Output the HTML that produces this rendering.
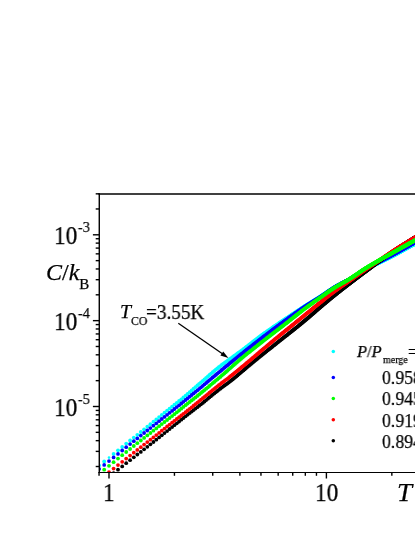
<!DOCTYPE html><html><head><meta charset="utf-8"><style>
html,body{margin:0;padding:0;background:#fff;}body{width:415px;height:537px;position:relative;overflow:hidden;font-family:"Liberation Serif",serif;color:#000;}
.t{position:absolute;white-space:nowrap;margin:0;padding:0;will-change:transform;transform-origin:0 0;-webkit-text-stroke:0.25px #000;}
.t i{font-style:italic;} .s{position:relative;}
</style></head><body>
<svg width="415" height="537" viewBox="0 0 415 537" style="position:absolute;left:0;top:0">
<defs><clipPath id="cp"><rect x="99.0" y="193.85" width="321.0" height="278.65"/></clipPath>
<marker id="mcyan" markerWidth="6" markerHeight="6" refX="3" refY="3" markerUnits="userSpaceOnUse"><circle cx="3" cy="3" r="1.9" fill="#00ffff"/></marker>
<marker id="mblue" markerWidth="6" markerHeight="6" refX="3" refY="3" markerUnits="userSpaceOnUse"><circle cx="3" cy="3" r="1.9" fill="#0000ff"/></marker>
<marker id="mblack" markerWidth="6" markerHeight="6" refX="3" refY="3" markerUnits="userSpaceOnUse"><circle cx="3" cy="3" r="1.9" fill="#000000"/></marker>
<marker id="mred" markerWidth="6" markerHeight="6" refX="3" refY="3" markerUnits="userSpaceOnUse"><circle cx="3" cy="3" r="1.9" fill="#ff0000"/></marker>
<marker id="mgreen" markerWidth="6" markerHeight="6" refX="3" refY="3" markerUnits="userSpaceOnUse"><circle cx="3" cy="3" r="1.9" fill="#00ff00"/></marker>
</defs>
<g clip-path="url(#cp)">
<polyline points="99.1,465.4 104.2,461.4 113.6,453.9 118.0,450.3 122.2,446.9 126.2,443.6 130.1,440.5 133.8,437.6 137.3,434.8 140.8,432.0 144.1,429.3 147.3,426.7 150.4,424.2 153.4,421.7 156.3,419.4 159.1,417.1 161.8,414.9 164.5,412.7 167.1,410.6 169.6,408.6 172.1,406.6 174.4,404.7 176.8,402.9 179.1,401.0 181.3,399.3 183.4,397.5 185.6,395.7 187.6,394.0 189.7,392.2 191.7,390.5 193.6,388.7 195.5,387.1 197.4,385.4 199.2,383.8 201.0,382.3 202.8,380.8 204.5,379.3 206.2,377.8 207.9,376.3 209.5,374.9 211.1,373.6 212.7,372.2 214.3,370.9 215.8,369.6 217.3,368.4 218.8,367.2 220.3,366.1 221.7,365.0 223.1,363.9 224.5,362.9 225.9,361.9 227.3,361.0 228.6,360.0 229.9,359.0 231.2,358.1 232.5,357.2 233.8,356.2 235.0,355.3 236.3,354.4 237.5,353.5 238.7,352.7 239.9,351.8 241.1,350.9 242.2,350.1 243.4,349.2 244.5,348.4 245.6,347.5 246.7,346.7 247.8,345.9 248.9,345.0 250.0,344.2 251.0,343.3 252.1,342.5 253.1,341.7 254.1,340.9 255.1,340.1 256.1,339.3 257.1,338.6 258.1,337.8 259.0,337.1 260.0,336.4 261.0,335.7 261.9,335.0 262.8,334.3 263.7,333.7 264.7,333.0 265.6,332.4 266.5,331.8 267.3,331.2 268.2,330.6 269.1,329.9 270.0,329.4 270.8,328.8 271.7,328.2 272.5,327.6 273.3,327.0 274.2,326.5 275.0,325.9 275.8,325.4 276.6,324.8 277.4,324.3 278.2,323.8 279.0,323.2 279.7,322.7 280.5,322.2 281.3,321.7 282.0,321.2 282.8,320.7 283.5,320.2 284.3,319.7 285.0,319.2 285.7,318.7 286.5,318.2 287.2,317.8 287.9,317.3 288.6,316.8 289.3,316.4 290.0,315.9 290.7,315.4 291.4,315.0 292.0,314.5 292.7,314.1 293.4,313.6 294.1,313.2 294.7,312.8 295.4,312.3 296.0,311.9 296.7,311.4 297.3,311.0 298.0,310.6 298.6,310.2 299.2,309.8 299.9,309.3 300.5,308.9 301.1,308.5 301.7,308.1 302.3,307.7 302.9,307.3 303.5,306.9 304.1,306.5 304.7,306.2 305.3,305.8 305.9,305.4 306.5,305.0 307.1,304.7 307.7,304.3 308.2,304.0 308.8,303.6 309.4,303.3 309.9,302.9 310.5,302.6 311.1,302.2 311.6,301.9 312.2,301.6 312.7,301.2 313.3,300.9 313.8,300.6 314.3,300.2 314.9,299.9 315.4,299.6 315.9,299.2 316.5,298.9 317.0,298.6 317.5,298.3 318.0,298.0 318.5,297.6 319.0,297.3 319.5,297.0 320.1,296.7 320.6,296.3 321.1,296.0 321.6,295.7 322.1,295.4 322.5,295.0 323.0,294.7 323.5,294.4 324.0,294.1 324.5,293.7 325.0,293.4 325.5,293.1 325.9,292.8 326.4,292.5 326.9,292.1 327.3,291.8 327.8,291.5 328.3,291.2 328.7,290.9 329.2,290.6 329.6,290.3 330.1,290.0 330.6,289.7 331.0,289.4 331.5,289.1 331.9,288.8 332.3,288.5 332.8,288.2 333.2,288.0 333.7,287.7 334.1,287.4 334.5,287.2 335.0,286.9 335.4,286.7 335.8,286.4 336.3,286.2 336.7,285.9 337.1,285.7 337.5,285.5 337.9,285.2 338.4,285.0 338.8,284.8 339.2,284.6 339.6,284.4 340.0,284.1 340.4,283.9 340.8,283.7 341.2,283.5 341.6,283.3 342.0,283.1 342.4,282.9 342.8,282.7 343.2,282.5 343.6,282.3 344.0,282.1 344.4,281.9 344.8,281.7 345.2,281.5 345.6,281.3 345.9,281.1 346.3,280.9 346.7,280.7 347.1,280.5 347.5,280.3 347.8,280.1 348.2,279.9 348.6,279.7 349.0,279.5 349.3,279.3 349.7,279.1 350.1,278.9 350.4,278.7 350.8,278.4 351.2,278.2 351.5,278.0 351.9,277.8 352.3,277.6 352.6,277.4 353.0,277.2 353.3,277.0 353.7,276.8 354.0,276.5 354.4,276.3 354.7,276.1 355.1,275.9 355.4,275.7 355.8,275.5 356.1,275.3 356.5,275.1 356.8,274.9 357.2,274.6 357.5,274.4 357.8,274.2 358.2,274.0 358.5,273.8 358.8,273.6 359.2,273.4 359.5,273.2 359.8,273.0 360.2,272.8 360.5,272.6 360.8,272.4 361.2,272.2 361.5,272.0 361.8,271.8 362.1,271.6 362.5,271.5 362.8,271.3 363.1,271.1 363.4,270.9 363.7,270.7 364.1,270.5 364.4,270.4 364.7,270.2 365.0,270.0 365.3,269.8 365.6,269.7 365.9,269.5 366.2,269.3 366.6,269.1 366.9,269.0 367.2,268.8 367.5,268.7 367.8,268.5 368.1,268.3 368.4,268.2 368.7,268.0 369.0,267.8 369.3,267.7 369.6,267.5 369.9,267.4 370.2,267.2 370.5,267.1 370.8,266.9 371.1,266.8 371.4,266.6 371.7,266.5 371.9,266.3 372.2,266.2 372.5,266.0 372.8,265.9 373.1,265.7 373.4,265.6 373.7,265.4 374.0,265.3 374.3,265.1 374.5,265.0 374.8,264.8 375.1,264.7 375.4,264.6 375.7,264.4 375.9,264.3 376.2,264.1 376.5,264.0 376.8,263.9 377.1,263.7 377.3,263.6 377.6,263.5 377.9,263.3 378.2,263.2 378.4,263.0 378.7,262.9 379.0,262.8 379.2,262.6 379.5,262.5 379.8,262.4 380.0,262.2 380.3,262.1 380.6,262.0 380.8,261.8 381.1,261.7 381.4,261.6 381.6,261.5 381.9,261.3 382.2,261.2 382.4,261.1 382.7,260.9 382.9,260.8 383.2,260.7 383.5,260.6 383.7,260.4 384.0,260.3 384.2,260.2 384.5,260.1 384.7,259.9 385.0,259.8 385.2,259.7 385.5,259.5 385.8,259.4 386.0,259.3 386.3,259.2 386.5,259.0 386.8,258.9 387.0,258.8 387.2,258.7 387.5,258.6 387.7,258.4 388.0,258.3 388.2,258.2 388.5,258.1 388.7,257.9 389.0,257.8 389.2,257.7 389.5,257.6 389.7,257.4 389.9,257.3 390.2,257.2 390.4,257.1 390.7,257.0 390.9,256.8 391.1,256.7 391.4,256.6 391.6,256.5 391.8,256.3 392.1,256.2 392.3,256.1 392.5,256.0 392.8,255.9 393.0,255.7 393.2,255.6 393.5,255.5 393.7,255.4 393.9,255.3 394.2,255.1 394.4,255.0 394.6,254.9 394.9,254.8 395.1,254.7 395.3,254.5 395.5,254.4 395.8,254.3 396.0,254.2 396.2,254.0 396.5,253.9 396.7,253.8 396.9,253.7 397.1,253.6 397.3,253.4 397.6,253.3 397.8,253.2 398.0,253.1 398.2,253.0 398.5,252.8 398.7,252.7 398.9,252.6 399.1,252.5 399.3,252.4 399.5,252.2 399.8,252.1 400.0,252.0 400.2,251.9 400.4,251.8 400.6,251.6 400.8,251.5 401.1,251.4 401.3,251.3 401.5,251.2 401.7,251.0 401.9,250.9 402.1,250.8 402.3,250.7 402.5,250.6 402.8,250.4 403.0,250.3 403.2,250.2 403.4,250.1 403.6,250.0 403.8,249.9 404.0,249.7 404.2,249.6 404.4,249.5 404.6,249.4 404.8,249.3 405.0,249.2 405.2,249.1 405.4,248.9 405.7,248.8 405.9,248.7 406.1,248.6 406.3,248.5 406.5,248.4 406.7,248.3 406.9,248.1 407.1,248.0 407.3,247.9 407.5,247.8 407.7,247.7 407.9,247.6 408.1,247.5 408.3,247.4 408.5,247.3 408.7,247.1 408.9,247.0 409.1,246.9 409.3,246.8 409.5,246.7 409.6,246.6 409.8,246.5 410.0,246.4 410.2,246.3 410.4,246.2 410.6,246.1 410.8,246.0 411.0,245.9 411.2,245.7 411.4,245.6 411.6,245.5 411.8,245.4 412.0,245.3 412.2,245.2 412.3,245.1 412.5,245.0 412.7,244.9 412.9,244.8 413.1,244.7 413.3,244.6 413.5,244.5 413.7,244.4 413.9,244.3 414.0,244.2 414.2,244.1 414.4,244.0 414.6,243.9 414.8,243.8 415.0,243.7 415.2,243.6 415.3,243.5 415.5,243.4 415.7,243.3 415.9,243.2 416.1,243.1 416.3,243.0 416.4,242.9 416.6,242.9 416.8,242.8 417.0,242.7 417.2,242.6 417.3,242.5 417.5,242.4 417.7,242.3 417.9,242.2 418.1,242.1 418.2,242.0 418.4,241.9 418.6,241.8 418.8,241.7 418.9,241.7" fill="none" stroke="none" marker-start="url(#mcyan)" marker-mid="url(#mcyan)" marker-end="url(#mcyan)"/>
<circle cx="109.0" cy="457.6" r="1.3" fill="#00ffff"/>
<polyline points="99.1,468.9 104.2,464.9 109.0,461.1 113.6,457.4 118.0,453.9 122.2,450.5 126.2,447.2 130.1,444.1 133.8,441.2 137.3,438.4 140.8,435.6 144.1,433.0 147.3,430.5 150.4,428.1 153.4,425.7 156.3,423.4 159.1,421.2 161.8,419.0 164.5,416.9 167.1,414.8 169.6,412.8 172.1,410.9 174.4,409.0 176.8,407.1 179.1,405.3 181.3,403.5 183.4,401.8 185.6,400.0 187.6,398.3 189.7,396.7 191.7,395.0 193.6,393.4 195.5,391.8 197.4,390.3 199.2,388.8 201.0,387.3 202.8,385.8 204.5,384.3 206.2,382.9 207.9,381.5 209.5,380.1 211.1,378.8 212.7,377.4 214.3,376.1 215.8,374.9 217.3,373.6 218.8,372.4 220.3,371.2 221.7,370.0 223.1,368.8 224.5,367.7 225.9,366.5 227.3,365.4 228.6,364.3 229.9,363.2 231.2,362.2 232.5,361.1 233.8,360.1 235.0,359.1 236.3,358.1 237.5,357.1 238.7,356.1 239.9,355.2 241.1,354.2 242.2,353.3 243.4,352.4 244.5,351.5 245.6,350.6 246.7,349.7 247.8,348.9 248.9,348.0 250.0,347.2 251.0,346.4 252.1,345.6 253.1,344.7 254.1,344.0 255.1,343.2 256.1,342.4 257.1,341.6 258.1,340.9 259.0,340.1 260.0,339.4 261.0,338.7 261.9,337.9 262.8,337.2 263.7,336.5 264.7,335.8 265.6,335.1 266.5,334.4 267.3,333.8 268.2,333.1 269.1,332.4 270.0,331.8 270.8,331.1 271.7,330.5 272.5,329.9 273.3,329.2 274.2,328.6 275.0,328.0 275.8,327.4 276.6,326.8 277.4,326.2 278.2,325.7 279.0,325.1 279.7,324.5 280.5,323.9 281.3,323.4 282.0,322.8 282.8,322.3 283.5,321.7 284.3,321.2 285.0,320.7 285.7,320.1 286.5,319.6 287.2,319.1 287.9,318.6 288.6,318.0 289.3,317.5 290.0,317.0 290.7,316.5 291.4,316.1 292.0,315.6 292.7,315.1 293.4,314.6 294.1,314.1 294.7,313.7 295.4,313.2 296.0,312.7 296.7,312.3 297.3,311.8 298.0,311.4 298.6,310.9 299.2,310.5 299.9,310.1 300.5,309.7 301.1,309.2 301.7,308.8 302.3,308.4 302.9,308.0 303.5,307.6 304.1,307.2 304.7,306.8 305.3,306.4 305.9,306.0 306.5,305.6 307.1,305.2 307.7,304.9 308.2,304.5 308.8,304.1 309.4,303.8 309.9,303.4 310.5,303.1 311.1,302.7 311.6,302.4 312.2,302.0 312.7,301.7 313.3,301.4 313.8,301.0 314.3,300.7 314.9,300.4 315.4,300.0 315.9,299.7 316.5,299.4 317.0,299.0 317.5,298.7 318.0,298.4 318.5,298.1 319.0,297.7 319.5,297.4 320.1,297.1 320.6,296.7 321.1,296.4 321.6,296.1 322.1,295.7 322.5,295.4 323.0,295.1 323.5,294.7 324.0,294.4 324.5,294.1 325.0,293.7 325.5,293.4 325.9,293.1 326.4,292.7 326.9,292.4 327.3,292.1 327.8,291.7 328.3,291.4 328.7,291.1 329.2,290.8 329.6,290.5 330.1,290.2 330.6,289.9 331.0,289.6 331.5,289.3 331.9,289.0 332.3,288.7 332.8,288.4 333.2,288.1 333.7,287.8 334.1,287.5 334.5,287.3 335.0,287.0 335.4,286.8 335.8,286.5 336.3,286.3 336.7,286.0 337.1,285.8 337.5,285.5 337.9,285.3 338.4,285.1 338.8,284.8 339.2,284.6 339.6,284.4 340.0,284.2 340.4,284.0 340.8,283.7 341.2,283.5 341.6,283.3 342.0,283.1 342.4,282.9 342.8,282.7 343.2,282.5 343.6,282.3 344.0,282.1 344.4,281.9 344.8,281.7 345.2,281.4 345.6,281.2 345.9,281.0 346.3,280.8 346.7,280.6 347.1,280.4 347.5,280.2 347.8,280.0 348.2,279.8 348.6,279.6 349.0,279.4 349.3,279.2 349.7,279.0 350.1,278.8 350.4,278.5 350.8,278.3 351.2,278.1 351.5,277.9 351.9,277.7 352.3,277.5 352.6,277.2 353.0,277.0 353.3,276.8 353.7,276.6 354.0,276.4 354.4,276.2 354.7,275.9 355.1,275.7 355.4,275.5 355.8,275.3 356.1,275.1 356.5,274.8 356.8,274.6 357.2,274.4 357.5,274.2 357.8,274.0 358.2,273.8 358.5,273.6 358.8,273.4 359.2,273.1 359.5,272.9 359.8,272.7 360.2,272.5 360.5,272.3 360.8,272.1 361.2,271.9 361.5,271.7 361.8,271.5 362.1,271.3 362.5,271.1 362.8,270.9 363.1,270.7 363.4,270.5 363.7,270.3 364.1,270.2 364.4,270.0 364.7,269.8 365.0,269.6 365.3,269.4 365.6,269.2 365.9,269.1 366.2,268.9 366.6,268.7 366.9,268.5 367.2,268.4 367.5,268.2 367.8,268.0 368.1,267.8 368.4,267.7 368.7,267.5 369.0,267.3 369.3,267.2 369.6,267.0 369.9,266.8 370.2,266.7 370.5,266.5 370.8,266.4 371.1,266.2 371.4,266.0 371.7,265.9 371.9,265.7 372.2,265.6 372.5,265.4 372.8,265.3 373.1,265.1 373.4,264.9 373.7,264.8 374.0,264.6 374.3,264.5 374.5,264.3 374.8,264.2 375.1,264.0 375.4,263.9 375.7,263.7 375.9,263.6 376.2,263.4 376.5,263.3 376.8,263.1 377.1,263.0 377.3,262.8 377.6,262.7 377.9,262.6 378.2,262.4 378.4,262.3 378.7,262.1 379.0,262.0 379.2,261.8 379.5,261.7 379.8,261.6 380.0,261.4 380.3,261.3 380.6,261.1 380.8,261.0 381.1,260.9 381.4,260.7 381.6,260.6 381.9,260.5 382.2,260.3 382.4,260.2 382.7,260.0 382.9,259.9 383.2,259.8 383.5,259.6 383.7,259.5 384.0,259.4 384.2,259.2 384.5,259.1 384.7,259.0 385.0,258.8 385.2,258.7 385.5,258.6 385.8,258.4 386.0,258.3 386.3,258.2 386.5,258.0 386.8,257.9 387.0,257.8 387.2,257.7 387.5,257.5 387.7,257.4 388.0,257.3 388.2,257.1 388.5,257.0 388.7,256.9 389.0,256.7 389.2,256.6 389.5,256.5 389.7,256.4 389.9,256.2 390.2,256.1 390.4,256.0 390.7,255.8 390.9,255.7 391.1,255.6 391.4,255.5 391.6,255.3 391.8,255.2 392.1,255.1 392.3,255.0 392.5,254.8 392.8,254.7 393.0,254.6 393.2,254.5 393.5,254.3 393.7,254.2 393.9,254.1 394.2,254.0 394.4,253.8 394.6,253.7 394.9,253.6 395.1,253.4 395.3,253.3 395.5,253.2 395.8,253.1 396.0,252.9 396.2,252.8 396.5,252.7 396.7,252.6 396.9,252.5 397.1,252.3 397.3,252.2 397.6,252.1 397.8,252.0 398.0,251.8 398.2,251.7 398.5,251.6 398.7,251.5 398.9,251.3 399.1,251.2 399.3,251.1 399.5,251.0 399.8,250.8 400.0,250.7 400.2,250.6 400.4,250.5 400.6,250.4 400.8,250.2 401.1,250.1 401.3,250.0 401.5,249.9 401.7,249.8 401.9,249.6 402.1,249.5 402.3,249.4 402.5,249.3 402.8,249.2 403.0,249.0 403.2,248.9 403.4,248.8 403.6,248.7 403.8,248.6 404.0,248.4 404.2,248.3 404.4,248.2 404.6,248.1 404.8,248.0 405.0,247.9 405.2,247.7 405.4,247.6 405.7,247.5 405.9,247.4 406.1,247.3 406.3,247.2 406.5,247.1 406.7,246.9 406.9,246.8 407.1,246.7 407.3,246.6 407.5,246.5 407.7,246.4 407.9,246.3 408.1,246.1 408.3,246.0 408.5,245.9 408.7,245.8 408.9,245.7 409.1,245.6 409.3,245.5 409.5,245.4 409.6,245.3 409.8,245.2 410.0,245.0 410.2,244.9 410.4,244.8 410.6,244.7 410.8,244.6 411.0,244.5 411.2,244.4 411.4,244.3 411.6,244.2 411.8,244.1 412.0,244.0 412.2,243.9 412.3,243.8 412.5,243.7 412.7,243.5 412.9,243.4 413.1,243.3 413.3,243.2 413.5,243.1 413.7,243.0 413.9,242.9 414.0,242.8 414.2,242.7 414.4,242.6 414.6,242.5 414.8,242.4 415.0,242.3 415.2,242.2 415.3,242.1 415.5,242.0 415.7,241.9 415.9,241.8 416.1,241.7 416.3,241.6 416.4,241.5 416.6,241.4 416.8,241.3 417.0,241.2 417.2,241.1 417.3,241.0 417.5,240.9 417.7,240.8 417.9,240.8 418.1,240.7 418.2,240.6 418.4,240.5 418.6,240.4 418.8,240.3 418.9,240.2" fill="none" stroke="none" marker-start="url(#mblue)" marker-mid="url(#mblue)" marker-end="url(#mblue)"/>
<polyline points="99.1,484.5 104.2,480.5 109.0,476.7 113.6,473.1 118.0,469.7 122.2,466.4 126.2,463.2 130.1,460.2 133.8,457.3 137.3,454.5 140.8,451.9 144.1,449.3 147.3,446.8 150.4,444.3 153.4,442.0 156.3,439.7 159.1,437.4 161.8,435.3 164.5,433.1 167.1,431.1 169.6,429.0 172.1,427.1 174.4,425.2 176.8,423.3 179.1,421.5 181.3,419.7 183.4,418.0 185.6,416.3 187.6,414.7 189.7,413.1 191.7,411.6 193.6,410.1 195.5,408.6 197.4,407.2 199.2,405.7 201.0,404.3 202.8,402.9 204.5,401.5 206.2,400.1 207.9,398.7 209.5,397.3 211.1,396.0 212.7,394.7 214.3,393.4 215.8,392.2 217.3,391.0 218.8,389.8 220.3,388.7 221.7,387.6 223.1,386.6 224.5,385.5 225.9,384.5 227.3,383.6 228.6,382.6 229.9,381.5 231.2,380.5 232.5,379.5 233.8,378.5 235.0,377.4 236.3,376.4 237.5,375.4 238.7,374.3 239.9,373.3 241.1,372.3 242.2,371.3 243.4,370.4 244.5,369.4 245.6,368.5 246.7,367.6 247.8,366.6 248.9,365.7 250.0,364.8 251.0,363.9 252.1,363.1 253.1,362.2 254.1,361.3 255.1,360.5 256.1,359.7 257.1,358.9 258.1,358.1 259.0,357.3 260.0,356.5 261.0,355.7 261.9,355.0 262.8,354.2 263.7,353.5 264.7,352.8 265.6,352.0 266.5,351.3 267.3,350.6 268.2,349.9 269.1,349.2 270.0,348.5 270.8,347.9 271.7,347.2 272.5,346.5 273.3,345.8 274.2,345.2 275.0,344.5 275.8,343.9 276.6,343.2 277.4,342.6 278.2,342.0 279.0,341.3 279.7,340.7 280.5,340.1 281.3,339.5 282.0,338.9 282.8,338.3 283.5,337.7 284.3,337.1 285.0,336.6 285.7,336.0 286.5,335.4 287.2,334.9 287.9,334.3 288.6,333.7 289.3,333.2 290.0,332.6 290.7,332.1 291.4,331.5 292.0,331.0 292.7,330.5 293.4,329.9 294.1,329.4 294.7,328.9 295.4,328.3 296.0,327.8 296.7,327.3 297.3,326.8 298.0,326.3 298.6,325.8 299.2,325.2 299.9,324.7 300.5,324.2 301.1,323.7 301.7,323.2 302.3,322.7 302.9,322.2 303.5,321.7 304.1,321.2 304.7,320.7 305.3,320.2 305.9,319.7 306.5,319.2 307.1,318.7 307.7,318.2 308.2,317.7 308.8,317.3 309.4,316.8 309.9,316.3 310.5,315.8 311.1,315.3 311.6,314.8 312.2,314.3 312.7,313.8 313.3,313.4 313.8,312.9 314.3,312.4 314.9,311.9 315.4,311.5 315.9,311.0 316.5,310.6 317.0,310.1 317.5,309.7 318.0,309.2 318.5,308.8 319.0,308.3 319.5,307.9 320.1,307.5 320.6,307.0 321.1,306.6 321.6,306.2 322.1,305.8 322.5,305.3 323.0,304.9 323.5,304.5 324.0,304.1 324.5,303.7 325.0,303.3 325.5,302.9 325.9,302.5 326.4,302.1 326.9,301.7 327.3,301.3 327.8,300.9 328.3,300.5 328.7,300.1 329.2,299.8 329.6,299.4 330.1,299.0 330.6,298.6 331.0,298.3 331.5,297.9 331.9,297.5 332.3,297.2 332.8,296.8 333.2,296.4 333.7,296.1 334.1,295.7 334.5,295.4 335.0,295.0 335.4,294.7 335.8,294.3 336.3,294.0 336.7,293.7 337.1,293.3 337.5,293.0 337.9,292.6 338.4,292.3 338.8,292.0 339.2,291.7 339.6,291.3 340.0,291.0 340.4,290.7 340.8,290.4 341.2,290.1 341.6,289.7 342.0,289.4 342.4,289.1 342.8,288.8 343.2,288.5 343.6,288.2 344.0,287.9 344.4,287.6 344.8,287.3 345.2,287.0 345.6,286.7 345.9,286.4 346.3,286.1 346.7,285.8 347.1,285.5 347.5,285.2 347.8,284.9 348.2,284.6 348.6,284.3 349.0,284.0 349.3,283.7 349.7,283.5 350.1,283.2 350.4,282.9 350.8,282.6 351.2,282.3 351.5,282.1 351.9,281.8 352.3,281.5 352.6,281.2 353.0,281.0 353.3,280.7 353.7,280.4 354.0,280.2 354.4,279.9 354.7,279.6 355.1,279.4 355.4,279.1 355.8,278.8 356.1,278.6 356.5,278.3 356.8,278.1 357.2,277.8 357.5,277.5 357.8,277.3 358.2,277.0 358.5,276.8 358.8,276.5 359.2,276.3 359.5,276.0 359.8,275.8 360.2,275.5 360.5,275.3 360.8,275.0 361.2,274.8 361.5,274.5 361.8,274.3 362.1,274.0 362.5,273.8 362.8,273.6 363.1,273.3 363.4,273.1 363.7,272.8 364.1,272.6 364.4,272.4 364.7,272.1 365.0,271.9 365.3,271.7 365.6,271.4 365.9,271.2 366.2,271.0 366.6,270.7 366.9,270.5 367.2,270.3 367.5,270.0 367.8,269.8 368.1,269.6 368.4,269.4 368.7,269.1 369.0,268.9 369.3,268.7 369.6,268.5 369.9,268.2 370.2,268.0 370.5,267.8 370.8,267.6 371.1,267.4 371.4,267.1 371.7,266.9 371.9,266.7 372.2,266.5 372.5,266.3 372.8,266.1 373.1,265.8 373.4,265.6 373.7,265.4 374.0,265.2 374.3,265.0 374.5,264.8 374.8,264.6 375.1,264.4 375.4,264.1 375.7,263.9 375.9,263.7 376.2,263.5 376.5,263.3 376.8,263.1 377.1,262.9 377.3,262.7 377.6,262.5 377.9,262.3 378.2,262.1 378.4,261.9 378.7,261.7 379.0,261.5 379.2,261.3 379.5,261.1 379.8,260.9 380.0,260.7 380.3,260.5 380.6,260.3 380.8,260.1 381.1,259.9 381.4,259.7 381.6,259.5 381.9,259.4 382.2,259.2 382.4,259.0 382.7,258.8 382.9,258.6 383.2,258.4 383.5,258.2 383.7,258.0 384.0,257.8 384.2,257.7 384.5,257.5 384.7,257.3 385.0,257.1 385.2,256.9 385.5,256.7 385.8,256.6 386.0,256.4 386.3,256.2 386.5,256.0 386.8,255.8 387.0,255.7 387.2,255.5 387.5,255.3 387.7,255.1 388.0,255.0 388.2,254.8 388.5,254.6 388.7,254.4 389.0,254.3 389.2,254.1 389.5,253.9 389.7,253.8 389.9,253.6 390.2,253.4 390.4,253.3 390.7,253.1 390.9,252.9 391.1,252.8 391.4,252.6 391.6,252.4 391.8,252.3 392.1,252.1 392.3,251.9 392.5,251.8 392.8,251.6 393.0,251.5 393.2,251.3 393.5,251.1 393.7,251.0 393.9,250.8 394.2,250.7 394.4,250.5 394.6,250.3 394.9,250.2 395.1,250.0 395.3,249.9 395.5,249.7 395.8,249.6 396.0,249.4 396.2,249.3 396.5,249.1 396.7,249.0 396.9,248.8 397.1,248.7 397.3,248.5 397.6,248.4 397.8,248.2 398.0,248.1 398.2,247.9 398.5,247.8 398.7,247.7 398.9,247.5 399.1,247.4 399.3,247.2 399.5,247.1 399.8,246.9 400.0,246.8 400.2,246.7 400.4,246.5 400.6,246.4 400.8,246.2 401.1,246.1 401.3,246.0 401.5,245.8 401.7,245.7 401.9,245.5 402.1,245.4 402.3,245.3 402.5,245.1 402.8,245.0 403.0,244.9 403.2,244.7 403.4,244.6 403.6,244.5 403.8,244.3 404.0,244.2 404.2,244.1 404.4,243.9 404.6,243.8 404.8,243.7 405.0,243.6 405.2,243.4 405.4,243.3 405.7,243.2 405.9,243.0 406.1,242.9 406.3,242.8 406.5,242.7 406.7,242.5 406.9,242.4 407.1,242.3 407.3,242.1 407.5,242.0 407.7,241.9 407.9,241.8 408.1,241.6 408.3,241.5 408.5,241.4 408.7,241.3 408.9,241.1 409.1,241.0 409.3,240.9 409.5,240.8 409.6,240.7 409.8,240.5 410.0,240.4 410.2,240.3 410.4,240.2 410.6,240.0 410.8,239.9 411.0,239.8 411.2,239.7 411.4,239.6 411.6,239.4 411.8,239.3 412.0,239.2 412.2,239.1 412.3,239.0 412.5,238.8 412.7,238.7 412.9,238.6 413.1,238.5 413.3,238.4 413.5,238.3 413.7,238.1 413.9,238.0 414.0,237.9 414.2,237.8 414.4,237.7 414.6,237.6 414.8,237.4 415.0,237.3 415.2,237.2 415.3,237.1 415.5,237.0 415.7,236.9 415.9,236.7 416.1,236.6 416.3,236.5 416.4,236.4 416.6,236.3 416.8,236.2 417.0,236.1 417.2,235.9 417.3,235.8 417.5,235.7 417.7,235.6 417.9,235.5 418.1,235.4 418.2,235.3 418.4,235.2 418.6,235.1 418.8,234.9 418.9,234.8" fill="none" stroke="none" marker-start="url(#mblack)" marker-mid="url(#mblack)" marker-end="url(#mblack)"/>
<polyline points="99.1,480.2 104.2,476.1 109.0,472.2 113.6,468.6 118.0,465.1 122.2,461.8 126.2,458.6 130.1,455.6 133.8,452.7 137.3,449.9 140.8,447.2 144.1,444.6 147.3,442.1 150.4,439.7 153.4,437.4 156.3,435.1 159.1,432.9 161.8,430.7 164.5,428.6 167.1,426.5 169.6,424.6 172.1,422.6 174.4,420.8 176.8,419.0 179.1,417.2 181.3,415.5 183.4,413.8 185.6,412.2 187.6,410.5 189.7,408.9 191.7,407.3 193.6,405.7 195.5,404.1 197.4,402.6 199.2,401.1 201.0,399.7 202.8,398.2 204.5,396.8 206.2,395.4 207.9,394.1 209.5,392.7 211.1,391.4 212.7,390.1 214.3,388.8 215.8,387.6 217.3,386.4 218.8,385.2 220.3,384.1 221.7,383.0 223.1,381.9 224.5,380.8 225.9,379.8 227.3,378.8 228.6,377.8 229.9,376.7 231.2,375.7 232.5,374.7 233.8,373.7 235.0,372.6 236.3,371.6 237.5,370.6 238.7,369.6 239.9,368.7 241.1,367.7 242.2,366.7 243.4,365.8 244.5,364.8 245.6,363.9 246.7,363.0 247.8,362.1 248.9,361.2 250.0,360.3 251.0,359.4 252.1,358.5 253.1,357.6 254.1,356.8 255.1,355.9 256.1,355.1 257.1,354.2 258.1,353.4 259.0,352.6 260.0,351.7 261.0,350.9 261.9,350.1 262.8,349.4 263.7,348.6 264.7,347.8 265.6,347.1 266.5,346.3 267.3,345.6 268.2,344.8 269.1,344.1 270.0,343.4 270.8,342.7 271.7,342.0 272.5,341.3 273.3,340.6 274.2,339.9 275.0,339.2 275.8,338.6 276.6,337.9 277.4,337.3 278.2,336.6 279.0,336.0 279.7,335.4 280.5,334.7 281.3,334.1 282.0,333.5 282.8,332.9 283.5,332.3 284.3,331.7 285.0,331.1 285.7,330.5 286.5,330.0 287.2,329.4 287.9,328.8 288.6,328.2 289.3,327.7 290.0,327.1 290.7,326.6 291.4,326.0 292.0,325.5 292.7,324.9 293.4,324.4 294.1,323.8 294.7,323.3 295.4,322.7 296.0,322.2 296.7,321.7 297.3,321.2 298.0,320.6 298.6,320.1 299.2,319.6 299.9,319.1 300.5,318.6 301.1,318.1 301.7,317.6 302.3,317.1 302.9,316.6 303.5,316.1 304.1,315.6 304.7,315.1 305.3,314.6 305.9,314.2 306.5,313.7 307.1,313.2 307.7,312.7 308.2,312.3 308.8,311.8 309.4,311.3 309.9,310.9 310.5,310.4 311.1,310.0 311.6,309.5 312.2,309.1 312.7,308.6 313.3,308.2 313.8,307.7 314.3,307.3 314.9,306.8 315.4,306.4 315.9,306.0 316.5,305.6 317.0,305.1 317.5,304.7 318.0,304.3 318.5,303.9 319.0,303.5 319.5,303.1 320.1,302.7 320.6,302.3 321.1,301.9 321.6,301.5 322.1,301.1 322.5,300.7 323.0,300.3 323.5,299.9 324.0,299.5 324.5,299.1 325.0,298.7 325.5,298.3 325.9,297.9 326.4,297.6 326.9,297.2 327.3,296.8 327.8,296.4 328.3,296.1 328.7,295.7 329.2,295.4 329.6,295.0 330.1,294.6 330.6,294.3 331.0,293.9 331.5,293.6 331.9,293.2 332.3,292.9 332.8,292.6 333.2,292.2 333.7,291.9 334.1,291.6 334.5,291.2 335.0,290.9 335.4,290.6 335.8,290.3 336.3,290.0 336.7,289.7 337.1,289.4 337.5,289.1 337.9,288.8 338.4,288.5 338.8,288.2 339.2,287.9 339.6,287.6 340.0,287.3 340.4,287.0 340.8,286.7 341.2,286.4 341.6,286.2 342.0,285.9 342.4,285.6 342.8,285.3 343.2,285.1 343.6,284.8 344.0,284.5 344.4,284.3 344.8,284.0 345.2,283.7 345.6,283.5 345.9,283.2 346.3,282.9 346.7,282.7 347.1,282.4 347.5,282.2 347.8,281.9 348.2,281.6 348.6,281.4 349.0,281.1 349.3,280.9 349.7,280.6 350.1,280.4 350.4,280.1 350.8,279.8 351.2,279.6 351.5,279.3 351.9,279.1 352.3,278.8 352.6,278.6 353.0,278.3 353.3,278.1 353.7,277.8 354.0,277.6 354.4,277.3 354.7,277.1 355.1,276.8 355.4,276.6 355.8,276.3 356.1,276.1 356.5,275.8 356.8,275.6 357.2,275.3 357.5,275.1 357.8,274.9 358.2,274.6 358.5,274.4 358.8,274.1 359.2,273.9 359.5,273.7 359.8,273.4 360.2,273.2 360.5,272.9 360.8,272.7 361.2,272.5 361.5,272.3 361.8,272.0 362.1,271.8 362.5,271.6 362.8,271.3 363.1,271.1 363.4,270.9 363.7,270.7 364.1,270.5 364.4,270.2 364.7,270.0 365.0,269.8 365.3,269.6 365.6,269.4 365.9,269.2 366.2,269.0 366.6,268.7 366.9,268.5 367.2,268.3 367.5,268.1 367.8,267.9 368.1,267.7 368.4,267.5 368.7,267.3 369.0,267.1 369.3,266.9 369.6,266.7 369.9,266.5 370.2,266.3 370.5,266.1 370.8,265.9 371.1,265.8 371.4,265.6 371.7,265.4 371.9,265.2 372.2,265.0 372.5,264.8 372.8,264.6 373.1,264.4 373.4,264.2 373.7,264.0 374.0,263.9 374.3,263.7 374.5,263.5 374.8,263.3 375.1,263.1 375.4,262.9 375.7,262.8 375.9,262.6 376.2,262.4 376.5,262.2 376.8,262.0 377.1,261.8 377.3,261.7 377.6,261.5 377.9,261.3 378.2,261.1 378.4,260.9 378.7,260.8 379.0,260.6 379.2,260.4 379.5,260.2 379.8,260.1 380.0,259.9 380.3,259.7 380.6,259.5 380.8,259.3 381.1,259.2 381.4,259.0 381.6,258.8 381.9,258.6 382.2,258.4 382.4,258.3 382.7,258.1 382.9,257.9 383.2,257.7 383.5,257.6 383.7,257.4 384.0,257.2 384.2,257.0 384.5,256.9 384.7,256.7 385.0,256.5 385.2,256.3 385.5,256.2 385.8,256.0 386.0,255.8 386.3,255.7 386.5,255.5 386.8,255.3 387.0,255.1 387.2,255.0 387.5,254.8 387.7,254.6 388.0,254.5 388.2,254.3 388.5,254.1 388.7,254.0 389.0,253.8 389.2,253.6 389.5,253.5 389.7,253.3 389.9,253.1 390.2,253.0 390.4,252.8 390.7,252.7 390.9,252.5 391.1,252.3 391.4,252.2 391.6,252.0 391.8,251.9 392.1,251.7 392.3,251.6 392.5,251.4 392.8,251.2 393.0,251.1 393.2,250.9 393.5,250.8 393.7,250.6 393.9,250.5 394.2,250.3 394.4,250.2 394.6,250.0 394.9,249.9 395.1,249.7 395.3,249.6 395.5,249.4 395.8,249.3 396.0,249.2 396.2,249.0 396.5,248.9 396.7,248.7 396.9,248.6 397.1,248.4 397.3,248.3 397.6,248.2 397.8,248.0 398.0,247.9 398.2,247.7 398.5,247.6 398.7,247.5 398.9,247.3 399.1,247.2 399.3,247.1 399.5,246.9 399.8,246.8 400.0,246.7 400.2,246.5 400.4,246.4 400.6,246.3 400.8,246.1 401.1,246.0 401.3,245.9 401.5,245.7 401.7,245.6 401.9,245.5 402.1,245.3 402.3,245.2 402.5,245.1 402.8,244.9 403.0,244.8 403.2,244.7 403.4,244.6 403.6,244.4 403.8,244.3 404.0,244.2 404.2,244.1 404.4,243.9 404.6,243.8 404.8,243.7 405.0,243.6 405.2,243.4 405.4,243.3 405.7,243.2 405.9,243.1 406.1,242.9 406.3,242.8 406.5,242.7 406.7,242.6 406.9,242.4 407.1,242.3 407.3,242.2 407.5,242.1 407.7,242.0 407.9,241.8 408.1,241.7 408.3,241.6 408.5,241.5 408.7,241.4 408.9,241.3 409.1,241.1 409.3,241.0 409.5,240.9 409.6,240.8 409.8,240.7 410.0,240.6 410.2,240.4 410.4,240.3 410.6,240.2 410.8,240.1 411.0,240.0 411.2,239.9 411.4,239.7 411.6,239.6 411.8,239.5 412.0,239.4 412.2,239.3 412.3,239.2 412.5,239.1 412.7,239.0 412.9,238.8 413.1,238.7 413.3,238.6 413.5,238.5 413.7,238.4 413.9,238.3 414.0,238.2 414.2,238.1 414.4,237.9 414.6,237.8 414.8,237.7 415.0,237.6 415.2,237.5 415.3,237.4 415.5,237.3 415.7,237.2 415.9,237.1 416.1,237.0 416.3,236.9 416.4,236.8 416.6,236.6 416.8,236.5 417.0,236.4 417.2,236.3 417.3,236.2 417.5,236.1 417.7,236.0 417.9,235.9 418.1,235.8 418.2,235.7 418.4,235.6 418.6,235.5 418.8,235.4 418.9,235.3" fill="none" stroke="none" marker-start="url(#mred)" marker-mid="url(#mred)" marker-end="url(#mred)"/>
<polyline points="99.1,473.8 104.2,469.7 109.0,465.8 113.6,462.2 118.0,458.6 122.2,455.2 126.2,452.0 130.1,449.0 133.8,446.0 137.3,443.2 140.8,440.5 144.1,437.9 147.3,435.4 150.4,433.0 153.4,430.7 156.3,428.4 159.1,426.2 161.8,424.1 164.5,422.0 167.1,420.0 169.6,418.0 172.1,416.1 174.4,414.2 176.8,412.3 179.1,410.5 181.3,408.7 183.4,406.9 185.6,405.2 187.6,403.6 189.7,402.0 191.7,400.4 193.6,398.9 195.5,397.4 197.4,395.9 199.2,394.4 201.0,392.9 202.8,391.5 204.5,390.1 206.2,388.7 207.9,387.3 209.5,385.9 211.1,384.6 212.7,383.2 214.3,381.9 215.8,380.6 217.3,379.4 218.8,378.1 220.3,376.9 221.7,375.6 223.1,374.4 224.5,373.2 225.9,372.0 227.3,370.8 228.6,369.6 229.9,368.4 231.2,367.3 232.5,366.1 233.8,365.0 235.0,363.9 236.3,362.8 237.5,361.8 238.7,360.7 239.9,359.7 241.1,358.7 242.2,357.7 243.4,356.8 244.5,355.8 245.6,354.9 246.7,354.0 247.8,353.1 248.9,352.3 250.0,351.5 251.0,350.6 252.1,349.8 253.1,349.0 254.1,348.2 255.1,347.4 256.1,346.6 257.1,345.8 258.1,345.0 259.0,344.3 260.0,343.5 261.0,342.7 261.9,342.0 262.8,341.3 263.7,340.6 264.7,339.8 265.6,339.1 266.5,338.4 267.3,337.7 268.2,337.1 269.1,336.4 270.0,335.7 270.8,335.0 271.7,334.4 272.5,333.7 273.3,333.1 274.2,332.5 275.0,331.8 275.8,331.2 276.6,330.6 277.4,330.0 278.2,329.4 279.0,328.8 279.7,328.2 280.5,327.6 281.3,327.0 282.0,326.4 282.8,325.9 283.5,325.3 284.3,324.7 285.0,324.1 285.7,323.6 286.5,323.0 287.2,322.5 287.9,321.9 288.6,321.3 289.3,320.8 290.0,320.2 290.7,319.7 291.4,319.1 292.0,318.6 292.7,318.1 293.4,317.5 294.1,317.0 294.7,316.5 295.4,316.0 296.0,315.4 296.7,314.9 297.3,314.4 298.0,313.9 298.6,313.4 299.2,312.9 299.9,312.4 300.5,311.9 301.1,311.5 301.7,311.0 302.3,310.5 302.9,310.1 303.5,309.6 304.1,309.1 304.7,308.7 305.3,308.3 305.9,307.8 306.5,307.4 307.1,307.0 307.7,306.5 308.2,306.1 308.8,305.7 309.4,305.3 309.9,304.9 310.5,304.5 311.1,304.1 311.6,303.7 312.2,303.3 312.7,302.9 313.3,302.5 313.8,302.1 314.3,301.7 314.9,301.3 315.4,300.9 315.9,300.6 316.5,300.2 317.0,299.8 317.5,299.5 318.0,299.1 318.5,298.7 319.0,298.4 319.5,298.0 320.1,297.7 320.6,297.3 321.1,297.0 321.6,296.6 322.1,296.3 322.5,295.9 323.0,295.6 323.5,295.2 324.0,294.9 324.5,294.5 325.0,294.2 325.5,293.8 325.9,293.5 326.4,293.2 326.9,292.8 327.3,292.5 327.8,292.2 328.3,291.9 328.7,291.5 329.2,291.2 329.6,290.9 330.1,290.6 330.6,290.3 331.0,290.0 331.5,289.7 331.9,289.4 332.3,289.1 332.8,288.8 333.2,288.5 333.7,288.2 334.1,288.0 334.5,287.7 335.0,287.4 335.4,287.2 335.8,286.9 336.3,286.6 336.7,286.4 337.1,286.1 337.5,285.9 337.9,285.6 338.4,285.4 338.8,285.2 339.2,284.9 339.6,284.7 340.0,284.5 340.4,284.2 340.8,284.0 341.2,283.8 341.6,283.6 342.0,283.3 342.4,283.1 342.8,282.9 343.2,282.7 343.6,282.5 344.0,282.2 344.4,282.0 344.8,281.8 345.2,281.6 345.6,281.4 345.9,281.1 346.3,280.9 346.7,280.7 347.1,280.5 347.5,280.2 347.8,280.0 348.2,279.8 348.6,279.6 349.0,279.3 349.3,279.1 349.7,278.9 350.1,278.6 350.4,278.4 350.8,278.1 351.2,277.9 351.5,277.7 351.9,277.4 352.3,277.2 352.6,276.9 353.0,276.7 353.3,276.5 353.7,276.2 354.0,276.0 354.4,275.7 354.7,275.5 355.1,275.3 355.4,275.0 355.8,274.8 356.1,274.5 356.5,274.3 356.8,274.1 357.2,273.8 357.5,273.6 357.8,273.4 358.2,273.1 358.5,272.9 358.8,272.7 359.2,272.4 359.5,272.2 359.8,272.0 360.2,271.8 360.5,271.5 360.8,271.3 361.2,271.1 361.5,270.9 361.8,270.7 362.1,270.4 362.5,270.2 362.8,270.0 363.1,269.8 363.4,269.6 363.7,269.4 364.1,269.2 364.4,269.0 364.7,268.8 365.0,268.6 365.3,268.4 365.6,268.2 365.9,268.0 366.2,267.8 366.6,267.6 366.9,267.5 367.2,267.3 367.5,267.1 367.8,266.9 368.1,266.7 368.4,266.5 368.7,266.3 369.0,266.2 369.3,266.0 369.6,265.8 369.9,265.6 370.2,265.5 370.5,265.3 370.8,265.1 371.1,264.9 371.4,264.8 371.7,264.6 371.9,264.4 372.2,264.2 372.5,264.1 372.8,263.9 373.1,263.7 373.4,263.6 373.7,263.4 374.0,263.2 374.3,263.1 374.5,262.9 374.8,262.7 375.1,262.6 375.4,262.4 375.7,262.3 375.9,262.1 376.2,261.9 376.5,261.8 376.8,261.6 377.1,261.5 377.3,261.3 377.6,261.1 377.9,261.0 378.2,260.8 378.4,260.7 378.7,260.5 379.0,260.4 379.2,260.2 379.5,260.1 379.8,259.9 380.0,259.8 380.3,259.6 380.6,259.5 380.8,259.3 381.1,259.2 381.4,259.0 381.6,258.9 381.9,258.7 382.2,258.6 382.4,258.4 382.7,258.3 382.9,258.1 383.2,258.0 383.5,257.8 383.7,257.7 384.0,257.6 384.2,257.4 384.5,257.3 384.7,257.1 385.0,257.0 385.2,256.8 385.5,256.7 385.8,256.6 386.0,256.4 386.3,256.3 386.5,256.1 386.8,256.0 387.0,255.9 387.2,255.7 387.5,255.6 387.7,255.5 388.0,255.3 388.2,255.2 388.5,255.0 388.7,254.9 389.0,254.8 389.2,254.6 389.5,254.5 389.7,254.4 389.9,254.2 390.2,254.1 390.4,254.0 390.7,253.8 390.9,253.7 391.1,253.6 391.4,253.4 391.6,253.3 391.8,253.2 392.1,253.0 392.3,252.9 392.5,252.8 392.8,252.6 393.0,252.5 393.2,252.4 393.5,252.3 393.7,252.1 393.9,252.0 394.2,251.9 394.4,251.7 394.6,251.6 394.9,251.5 395.1,251.3 395.3,251.2 395.5,251.1 395.8,251.0 396.0,250.8 396.2,250.7 396.5,250.6 396.7,250.5 396.9,250.3 397.1,250.2 397.3,250.1 397.6,250.0 397.8,249.8 398.0,249.7 398.2,249.6 398.5,249.5 398.7,249.3 398.9,249.2 399.1,249.1 399.3,249.0 399.5,248.9 399.8,248.7 400.0,248.6 400.2,248.5 400.4,248.4 400.6,248.2 400.8,248.1 401.1,248.0 401.3,247.9 401.5,247.8 401.7,247.7 401.9,247.5 402.1,247.4 402.3,247.3 402.5,247.2 402.8,247.1 403.0,247.0 403.2,246.8 403.4,246.7 403.6,246.6 403.8,246.5 404.0,246.4 404.2,246.3 404.4,246.1 404.6,246.0 404.8,245.9 405.0,245.8 405.2,245.7 405.4,245.6 405.7,245.5 405.9,245.3 406.1,245.2 406.3,245.1 406.5,245.0 406.7,244.9 406.9,244.8 407.1,244.7 407.3,244.6 407.5,244.5 407.7,244.3 407.9,244.2 408.1,244.1 408.3,244.0 408.5,243.9 408.7,243.8 408.9,243.7 409.1,243.6 409.3,243.5 409.5,243.4 409.6,243.3 409.8,243.1 410.0,243.0 410.2,242.9 410.4,242.8 410.6,242.7 410.8,242.6 411.0,242.5 411.2,242.4 411.4,242.3 411.6,242.2 411.8,242.1 412.0,242.0 412.2,241.9 412.3,241.8 412.5,241.7 412.7,241.6 412.9,241.5 413.1,241.3 413.3,241.2 413.5,241.1 413.7,241.0 413.9,240.9 414.0,240.8 414.2,240.7 414.4,240.6 414.6,240.5 414.8,240.4 415.0,240.3 415.2,240.2 415.3,240.1 415.5,240.0 415.7,239.9 415.9,239.8 416.1,239.7 416.3,239.6 416.4,239.5 416.6,239.4 416.8,239.3 417.0,239.2 417.2,239.1 417.3,239.0 417.5,238.9 417.7,238.8 417.9,238.7 418.1,238.6 418.2,238.5 418.4,238.4 418.6,238.3 418.8,238.2 418.9,238.1" fill="none" stroke="none" marker-start="url(#mgreen)" marker-mid="url(#mgreen)" marker-end="url(#mgreen)"/>
</g>
<g stroke="#000" stroke-width="1.4" fill="none">
<line x1="98.5" y1="194.0" x2="415" y2="194.0"/>
<line x1="99.28" y1="193.35" x2="99.28" y2="473.0" stroke-width="1.4"/>
<line x1="98.3" y1="472.5" x2="415" y2="472.5" stroke-width="1.15"/>
<line x1="99.05" y1="472.5" x2="99.05" y2="475.8"/>
<line x1="109.00" y1="472.5" x2="109.00" y2="478.5"/>
<line x1="174.44" y1="472.5" x2="174.44" y2="475.8"/>
<line x1="212.73" y1="472.5" x2="212.73" y2="475.8"/>
<line x1="239.89" y1="472.5" x2="239.89" y2="475.8"/>
<line x1="260.96" y1="472.5" x2="260.96" y2="475.8"/>
<line x1="278.17" y1="472.5" x2="278.17" y2="475.8"/>
<line x1="292.72" y1="472.5" x2="292.72" y2="475.8"/>
<line x1="305.33" y1="472.5" x2="305.33" y2="475.8"/>
<line x1="316.45" y1="472.5" x2="316.45" y2="475.8"/>
<line x1="326.40" y1="472.5" x2="326.40" y2="478.5"/>
<line x1="391.84" y1="472.5" x2="391.84" y2="475.8"/>
<line x1="99.0" y1="466.51" x2="95.7" y2="466.51"/>
<line x1="99.0" y1="451.39" x2="95.7" y2="451.39"/>
<line x1="99.0" y1="440.66" x2="95.7" y2="440.66"/>
<line x1="99.0" y1="432.34" x2="95.7" y2="432.34"/>
<line x1="99.0" y1="425.55" x2="95.7" y2="425.55"/>
<line x1="99.0" y1="419.80" x2="95.7" y2="419.80"/>
<line x1="99.0" y1="414.82" x2="95.7" y2="414.82"/>
<line x1="99.0" y1="410.43" x2="95.7" y2="410.43"/>
<line x1="99.0" y1="406.50" x2="92.9" y2="406.50"/>
<line x1="99.0" y1="380.66" x2="95.7" y2="380.66"/>
<line x1="99.0" y1="365.54" x2="95.7" y2="365.54"/>
<line x1="99.0" y1="354.81" x2="95.7" y2="354.81"/>
<line x1="99.0" y1="346.49" x2="95.7" y2="346.49"/>
<line x1="99.0" y1="339.70" x2="95.7" y2="339.70"/>
<line x1="99.0" y1="333.95" x2="95.7" y2="333.95"/>
<line x1="99.0" y1="328.97" x2="95.7" y2="328.97"/>
<line x1="99.0" y1="324.58" x2="95.7" y2="324.58"/>
<line x1="99.0" y1="320.65" x2="92.9" y2="320.65"/>
<line x1="99.0" y1="294.81" x2="95.7" y2="294.81"/>
<line x1="99.0" y1="279.69" x2="95.7" y2="279.69"/>
<line x1="99.0" y1="268.96" x2="95.7" y2="268.96"/>
<line x1="99.0" y1="260.64" x2="95.7" y2="260.64"/>
<line x1="99.0" y1="253.85" x2="95.7" y2="253.85"/>
<line x1="99.0" y1="248.10" x2="95.7" y2="248.10"/>
<line x1="99.0" y1="243.12" x2="95.7" y2="243.12"/>
<line x1="99.0" y1="238.73" x2="95.7" y2="238.73"/>
<line x1="99.0" y1="234.80" x2="92.9" y2="234.80"/>
<line x1="99.0" y1="208.96" x2="95.7" y2="208.96"/>
<line x1="99.0" y1="193.84" x2="95.7" y2="193.84"/>
</g>
<line x1="178.3" y1="323.3" x2="223.47" y2="354.58" stroke="#000" stroke-width="1.3"/>
<polygon points="228.4,358.0 220.40,355.50 223.25,351.39" fill="#000"/>
<circle cx="333.3" cy="351.5" r="1.75" fill="#00ffff"/>
<circle cx="333.3" cy="377.4" r="1.75" fill="#0000ff"/>
<circle cx="333.3" cy="398.4" r="1.75" fill="#00ff00"/>
<circle cx="333.3" cy="419.7" r="1.75" fill="#ff0000"/>
<circle cx="333.3" cy="440.8" r="1.75" fill="#000000"/>
</svg>
<div class="t" style="left:54.05px;top:221.49px;font-size:25.6px;line-height:29.414px;transform:scaleX(0.912);">10<span class="s" style="font-size:15.6px;top:-11.9px;left:0.6px">-3</span></div>
<div class="t" style="left:54.05px;top:307.19px;font-size:25.6px;line-height:29.414px;transform:scaleX(0.912);">10<span class="s" style="font-size:15.6px;top:-11.9px;left:0.6px">-4</span></div>
<div class="t" style="left:54.05px;top:393.19px;font-size:25.6px;line-height:29.414px;transform:scaleX(0.912);">10<span class="s" style="font-size:15.6px;top:-11.9px;left:0.6px">-5</span></div>
<div class="t" style="left:46.3px;top:258.82px;font-size:24px;line-height:27.576px;transform:scaleX(1.0);"><i>C</i>/<i>k</i><span class="s" style="font-size:15px;top:8.7px;left:0px">B</span></div>
<div class="t" style="left:120.0px;top:301.20px;font-size:19.3px;line-height:22.176px;transform:scaleX(1.03);"><i>T</i></div>
<div class="t" style="left:130.8px;top:314.10px;font-size:12.8px;line-height:14.707px;transform:scaleX(0.92);">CO</div>
<div class="t" style="left:146.2px;top:299.97px;font-size:20.8px;line-height:23.899px;transform:scaleX(0.925);">=3.55K</div>
<div class="t" style="left:102.8px;top:478.49px;font-size:25.6px;line-height:29.414px;transform:scaleX(0.912);">1</div>
<div class="t" style="left:314.9px;top:478.49px;font-size:25.6px;line-height:29.414px;transform:scaleX(0.912);">10</div>
<div class="t" style="left:396.5px;top:477.83px;font-size:26px;line-height:29.874px;transform:scaleX(1.04);"><i>T</i></div>
<div class="t" style="left:357.0px;top:342.07px;font-size:17.2px;line-height:19.763px;transform:scaleX(0.955);"><i>P</i>/<i>P</i></div>
<div class="t" style="left:383.0px;top:353.28px;font-size:10.8px;line-height:12.409px;transform:scaleX(0.925);">merge</div>
<div class="t" style="left:407.6px;top:342.36px;font-size:18px;line-height:20.682px;transform:scaleX(1.0);">=</div>
<div class="t" style="left:381.6px;top:367.29px;font-size:19.2px;line-height:22.061px;transform:scaleX(0.925);">0.958</div>
<div class="t" style="left:381.6px;top:388.29px;font-size:19.2px;line-height:22.061px;transform:scaleX(0.925);">0.945</div>
<div class="t" style="left:381.6px;top:409.59px;font-size:19.2px;line-height:22.061px;transform:scaleX(0.925);">0.919</div>
<div class="t" style="left:381.6px;top:430.69px;font-size:19.2px;line-height:22.061px;transform:scaleX(0.925);">0.894</div>
</body></html>
